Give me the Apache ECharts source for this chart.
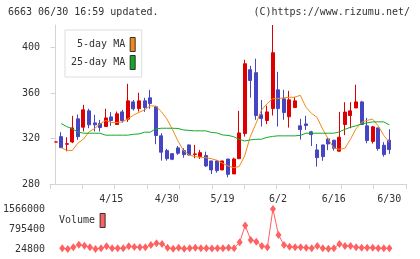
<html lang="ja">
  <head>
    <meta charset="utf-8">
    <title>6663</title>
    <script type="text/javascript" src="https://cdn.jsdelivr.net/npm/echarts@6/dist/echarts.min.js"></script>
    <style>
      body { margin: 0; background: #fff; }
      #chartDiv { width: 420px; height: 259px; }
    </style>
  </head>
  <body>
    <div id="chartDiv"></div>

    <script>
      // trading days shown on the chart
      var dates = ['4/1','4/2','4/3','4/6','4/7','4/8','4/9','4/10','4/13','4/14',
        '4/15','4/16','4/17','4/20','4/21','4/22','4/23','4/24','4/27','4/28',
        '4/30','5/1','5/7','5/8','5/11','5/12','5/13','5/14','5/15','5/18',
        '5/19','5/20','5/21','5/22','5/25','5/26','5/27','5/28','5/29','6/1',
        '6/2','6/3','6/4','6/5','6/8','6/9','6/10','6/11','6/12','6/15',
        '6/16','6/17','6/18','6/19','6/22','6/23','6/24','6/25','6/26','6/29',
        '6/30'];
      var dateLabels = ['4/15','4/30','5/19','6/2','6/16','6/30'];

      var openP = [317,321.7,315,317,337.4,330,344.4,333.8,333.2,330.6,
        339.1,332.4,343.5,337.1,352.3,346.4,353.2,355.9,348,322.4,
        309.4,306.7,311.8,309.4,314.4,306,304.1,305,300.3,300.3,
        292.4,302,288.9,302.3,324.4,380.6,378,340.9,335.9,346.4,
        362.9,355,339.2,347.3,331.2,332.9,325.9,310,314.4,319.7,
        318.6,308.9,332.4,340.3,347,352.3,331.2,317.5,329.4,314.1,
        318.6];
      var closeP = [317,312,315.5,329.4,321.7,345.3,332.1,332.1,329.7,338.2,
        335.9,341.8,335.9,353.2,346.2,353.2,347.3,350.9,322.7,308,
        302.3,301.8,307.1,305.9,305.6,306.5,307.6,295.9,292.4,291.8,
        300.3,288.5,302,325,385.9,371.2,340.3,337.6,343.5,395.6,
        346.4,342.9,354.1,353.2,327.9,331.5,323.5,303.2,304.1,315.3,
        311.5,321.2,343.3,344.4,352.3,332.4,318.3,330.3,311.2,305.9,
        310.3];
      var lowP = [317,312,308.8,316,318.9,326.2,329.1,326.2,326.2,330.2,
        331.2,332,334,334.7,344.7,343.8,343.5,346.2,315,300.6,
        300.6,301,305.6,303.2,305,302.7,302,295,288.8,290,
        292.2,285.9,288.7,302,321.7,356,336.5,330.6,332.7,340.3,
        330.6,336.5,329.7,347,319.1,327.6,313.5,295.3,300.4,309.8,
        309.4,308.7,323,329.1,346.8,332.2,315.9,315.6,309.4,304.1,
        306.5];
      var highP = [317,325.6,321.2,340,341.2,349.7,346.2,340.9,336.5,346.2,
        343.2,343.8,345.3,368.2,354,360.3,355.9,362.9,348.3,324.7,
        311,307.2,313.5,311.5,314.8,314.4,310,308.5,300.5,301.2,
        300.5,302.2,303.2,344.4,389.4,384,390.3,354,349,420,
        378.8,362.9,362,356.5,337.4,340,326.8,315.3,314.6,320.9,
        318.8,343.5,352,352,367.4,353.2,338.2,331.2,329.6,316.8,
        328.2];

      // moving averages (first day has none)
      var ma5 = [null,312.0,309.7,309.5,315.9,319.4,325.9,328.8,332.9,335.9,334.3,
        334.1,334.7,337.4,340.6,343.1,345.3,348.8,348.6,343.8,337.4,
        328.1,317.9,309.4,305.6,304.1,303.6,303.2,302.3,300.9,298.3,
        295.9,294.4,295.3,304.7,321.7,332.9,344.9,350.6,355,355.2,
        355.9,356.3,356.5,358.1,347.7,342.2,338.7,328.5,319.7,311.8,
        310.6,311.3,319.3,328.5,334.3,336,337.1,331.2,322.8,316.6];
      var ma25 = [null,333.2,330.6,328.5,325.9,324.7,324.7,324.7,324.7,323,323,
        323,323,323,323.8,324.1,325.6,325.6,328.5,329.1,329.1,
        329.1,328.9,327.6,327.2,326.8,326.8,326.8,325.4,325,323.2,
        322.8,321.7,319.3,317.9,318.8,319.4,319.4,321,321.9,322.4,
        322.4,322.4,322.4,322.8,324.7,324.7,324.7,324.7,324.7,324.7,
        325.9,328.1,329.9,331.2,332.9,333.8,334.7,334.7,334.7,332.1];
      var volume = [null,52000,24800,90800,191700,152900,90800,28000,52000,129600,52000,
        52000,52000,129600,100000,90800,90800,180000,246000,219000,75000,
        30000,75000,32000,52000,75000,52000,50000,48000,55000,51000,
        75000,52000,284900,929300,374200,308200,141300,90800,1566000,568300,
        180000,114000,90800,88000,75000,52000,141000,52000,30000,52000,
        219000,141000,141000,90800,75000,75000,75000,52000,52000,52000];

      var priceTicks = [280, 320, 360, 400];
      var volumeTicks = [24800, 795400, 1566000];

      var font = 'DejaVu Sans Mono';
      var axisGray = '#d4d4d4';
      var xMin = -1, xMax = 63;

      var candleData = [], ma5Data = [], ma25Data = [], volData = [];
      for (var i = 0; i < dates.length; i++) {
        candleData.push([i, openP[i], closeP[i], lowP[i], highP[i]]);
        if (ma5[i] != null) ma5Data.push([i, ma5[i]]);
        if (ma25[i] != null) ma25Data.push([i, ma25[i]]);
        if (volume[i] != null) volData.push([i, volume[i]]);
      }
      var labelIdx = dateLabels.map(function (d) { return dates.indexOf(d); });
      var xTicks = [];
      for (var k = 0; k <= 11; k++) xTicks.push(xMin + k * (xMax - xMin) / 11);

      var tce = echarts.init(document.getElementById('chartDiv'));
      tce.setOption({
        animation: false,
        title: [{
          text: '6663 06/30 16:59 updated.',
          left: 8, top: 7, padding: 0,
          textStyle: { fontFamily: font, fontSize: 10, fontWeight: 'normal', color: '#333' }
        }, {
          text: '(C)https://www.rizumu.net/',
          right: 10, top: 7, padding: 0,
          textStyle: { fontFamily: font, fontSize: 10, fontWeight: 'normal', color: '#333' }
        }],
        legend: [{
          orient: 'vertical',
          left: 65, top: 30,
          align: 'right',
          itemWidth: 5, itemHeight: 14, itemGap: 3,
          padding: [7, 6, 7, 6],
          backgroundColor: '#fff',
          borderColor: '#dddddd', borderWidth: 1,
          textStyle: { fontFamily: font, fontSize: 10, color: '#333' },
          data: [
            { name: '5-day MA', icon: 'rect', itemStyle: { color: '#f08a14', borderColor: '#333', borderWidth: 1 } },
            { name: '25-day MA', icon: 'rect', itemStyle: { color: '#14a82a', borderColor: '#333', borderWidth: 1 } }
          ]
        }, {
          orient: 'horizontal',
          left: 59, top: 213,
          align: 'right',
          itemWidth: 5, itemHeight: 14,
          padding: 0,
          textStyle: { fontFamily: font, fontSize: 10, color: '#333' },
          data: [
            { name: 'Volume', icon: 'rect', itemStyle: { color: '#ff6060', borderColor: '#333', borderWidth: 1 } }
          ]
        }],
        grid: [
          { left: 50, right: 14, top: 25, bottom: 75 },
          { left: 50, right: 14, top: 209, bottom: 10 }
        ],
        xAxis: [{
          type: 'value', gridIndex: 0, min: xMin, max: xMax,
          splitLine: { show: false },
          axisLine: { lineStyle: { color: axisGray } },
          axisTick: { customValues: xTicks, length: 5, lineStyle: { color: axisGray } },
          axisLabel: {
            customValues: labelIdx, margin: 10,
            fontFamily: font, fontSize: 10, color: '#333',
            formatter: function (v) { return dates[v]; }
          }
        }, {
          type: 'value', gridIndex: 1, min: xMin, max: xMax, show: false
        }],
        yAxis: [{
          type: 'value', gridIndex: 0, min: 280, max: 420,
          splitLine: { show: false },
          axisLine: { show: true, lineStyle: { color: axisGray } },
          axisTick: { show: true, customValues: priceTicks, length: 5, lineStyle: { color: axisGray } },
          axisLabel: { customValues: priceTicks, margin: 10, fontFamily: font, fontSize: 10, color: '#333' }
        }, {
          type: 'value', gridIndex: 1, min: 24800, max: 1566000,
          splitLine: { show: false },
          axisLine: { show: false },
          axisTick: { show: false },
          axisLabel: {
            customValues: volumeTicks, margin: 6, fontFamily: font, fontSize: 10, color: '#333',
            formatter: function (v) { return String(v); }
          }
        }],
        series: [{
          name: '5-day MA', type: 'line',
          xAxisIndex: 0, yAxisIndex: 0,
          data: ma5Data, showSymbol: false,
          lineStyle: { color: '#f08a14', width: 1 },
          itemStyle: { color: '#f08a14' }
        }, {
          name: '25-day MA', type: 'line',
          xAxisIndex: 0, yAxisIndex: 0,
          data: ma25Data, showSymbol: false,
          lineStyle: { color: '#14a82a', width: 1 },
          itemStyle: { color: '#14a82a' }
        }, {
          name: 'price', type: 'candlestick',
          xAxisIndex: 0, yAxisIndex: 0,
          barWidth: 3.5,
          data: candleData,
          itemStyle: {
            color: '#dc0000', color0: '#4646c3',
            borderColor: '#dc0000', borderColor0: '#4646c3', borderWidth: 1
          }
        }, {
          name: 'Volume', type: 'line',
          xAxisIndex: 1, yAxisIndex: 1,
          data: volData,
          symbol: 'diamond', symbolSize: [6, 8],
          lineStyle: { color: '#ff6060', width: 1 },
          itemStyle: { color: '#ff6060' }
        }]
      });
    </script>
  </body>
</html>
